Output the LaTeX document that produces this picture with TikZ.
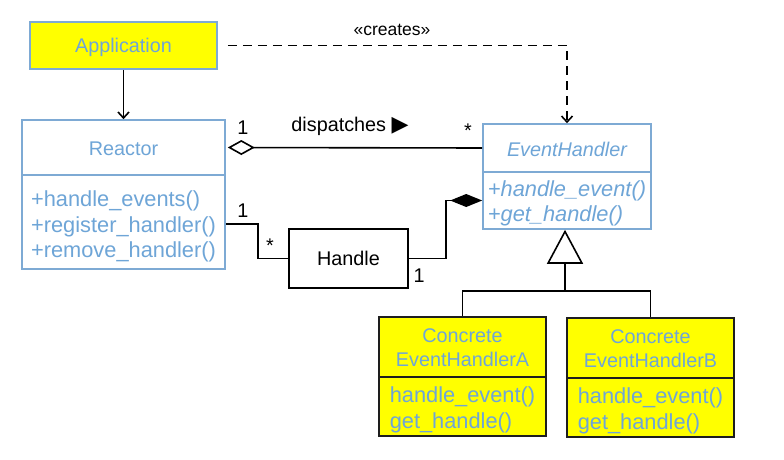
\documentclass[tikz,border=0pt]{standalone}
\usepackage{fontspec}
\setmainfont{Liberation Sans}
\newfontfamily\symfont{DejaVu Sans}
\usetikzlibrary{arrows.meta}
\definecolor{txtblue}{RGB}{110,165,215}
\definecolor{bordblue}{RGB}{126,170,212}
\definecolor{ylw}{RGB}{255,255,0}
\definecolor{dark}{RGB}{30,30,30}
\tikzset{
  titlefont/.style={font=\fontsize{19.8}{24}\selectfont},
  methfont/.style={font=\fontsize{21.8}{25.7}\selectfont},
  bluebox/.style={draw=bordblue, line width=1.6pt, inner sep=0pt},
  ybox/.style={draw=dark, fill=ylw, line width=1.8pt, inner sep=0pt},
  btext/.style={text=txtblue, inner sep=0pt, align=left},
  ctext/.style={text=txtblue, inner sep=0pt, align=center},
  conn/.style={line width=1.6pt, black},
  lbl/.style={titlefont, text=black, inner sep=0pt},
}
\begin{document}
\begin{tikzpicture}[x=1pt, y=-1pt]
\useasboundingbox (0,0) rectangle (784,460);
% Application
\node[bluebox, fill=ylw, minimum width=187pt, minimum height=47pt] (app) at (123.5,45.5) {};
\node[ctext, titlefont] (appT) at (123.5,47.5) {Application};
% Reactor
\node[bluebox, fill=white, minimum width=203pt, minimum height=55pt] (reactorH) at (123.5,147.5) {};
\node[ctext, titlefont] (reactorT) at (123.5,149) {Reactor};
\node[bluebox, fill=white, minimum width=203pt, minimum height=94pt] (reactorB) at (123.5,222) {};
\node[btext, methfont] (reactorM) at (123.5,226.5) {+handle\_events()\\+register\_handler()\\+remove\_handler()};
% EventHandler
\node[bluebox, fill=white, minimum width=168pt, minimum height=48pt] (ehH) at (567,148) {};
\node[ctext, titlefont] (ehT) at (567,149.5) {\itshape EventHandler};
\node[bluebox, fill=white, minimum width=168pt, minimum height=57pt] (ehB) at (567,200.5) {};
\node[btext, methfont, font=\fontsize{21.8}{25}\selectfont] (ehM) at (567,203.5) {\itshape +handle\_event()\\\itshape +get\_handle()};
% Handle
\node[draw=black, line width=1.6pt, fill=white, titlefont, minimum width=119pt, minimum height=59pt, inner sep=0pt] (handle) at (348.5,258.5) {Handle};
% Concrete A
\node[ybox, minimum width=167pt, minimum height=60pt] (aH) at (462.5,347) {};
\node[ctext, titlefont] (aT) at (462.5,348) {Concrete\\EventHandlerA};
\node[ybox, minimum width=167pt, minimum height=59pt] (aB) at (462.5,406.5) {};
\node[btext, methfont, font=\fontsize{21.8}{26}\selectfont] (aM) at (462.5,409.5) {handle\_event()\\get\_handle()};
% Concrete B
\node[ybox, minimum width=167pt, minimum height=60pt] (bH) at (650.5,348) {};
\node[ctext, titlefont] (bT) at (650.5,349) {Concrete\\EventHandlerB};
\node[ybox, minimum width=167pt, minimum height=59pt] (bB) at (650.5,407.5) {};
\node[btext, methfont, font=\fontsize{21.8}{26}\selectfont] (bM) at (650.5,410.5) {handle\_event()\\get\_handle()};

% Application -> Reactor
\draw[conn, -{Straight Barb[length=6pt,width=11pt]}] (app.south) -- (reactorH.north);
% creates
\draw[conn, dash pattern=on 9pt off 6pt, -{Straight Barb[length=6pt,width=11pt]}] ([xshift=10pt]app.east) -| (ehH.north);
\node[font=\fontsize{17.5}{20}\selectfont, inner sep=0pt] (creates) at (392,30) {«creates»};
% dispatches aggregation
\draw[conn, {Diamond[open,length=27pt,width=15pt]}-] ([xshift=2pt]reactorH.east) -- (ehH.west);
\node[lbl, anchor=base] (dispatch) at (350,131) {dispatches {\symfont\fontsize{22}{24}\selectfont ▶}};
\node[lbl] (m1) at (243,128) {1};
\node[lbl] (m2) at (468,131) {*};
% Reactor - Handle
\draw[conn] ([yshift=-2pt]reactorB.east) -- ++(32,0) coordinate (rc) |- (handle.west);
\node[lbl] (m3) at (243,211) {1};
\node[lbl] (m4) at (270,246) {*};
% Handle - EventHandler composition
\draw[conn, -{Diamond[length=32pt,width=13pt]}] (handle.east) -- ++(37,0) coordinate (hc) |- (ehB.west);
\node[lbl] (m5) at (419,276) {1};
% Generalization
\coordinate (join) at (565,291);
\draw[conn] (aH.north) |- (join) -| (bH.north);
\draw[conn, -{Triangle[open,length=34pt,width=36pt]}] (join) -- (join |- ehB.south);
\end{tikzpicture}
\end{document}
